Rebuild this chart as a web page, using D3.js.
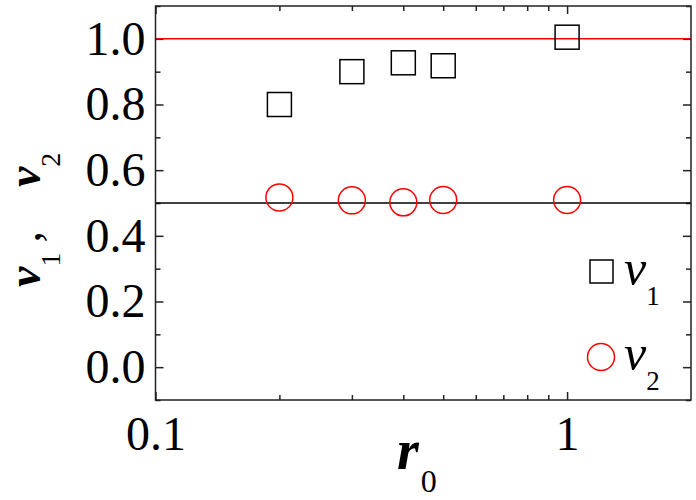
<!DOCTYPE html>
<html>
<head>
<meta charset="utf-8">
<script src="https://cdn.jsdelivr.net/npm/d3@7"></script>
<style>
  html, body { margin: 0; padding: 0; background: #fff; }
  svg text { font-family: "Liberation Serif", "Times New Roman", serif; fill: #000; }
</style>
</head>
<body>
<svg id="chart" width="696" height="500"></svg>
<script>
// data
const r0 = [0.2, 0.3, 0.4, 0.5, 1];
const v1 = [0.80, 0.90, 0.927, 0.918, 1.005];
const v2 = [0.517, 0.508, 0.502, 0.509, 0.509];
const refLines = [{ y: 1.0, color: "#ff0000" }, { y: 0.5, color: "#000" }];
const xMajor = [0.1, 1];
const xMinor = [0.2, 0.3, 0.4, 0.5, 0.6, 0.7, 0.8, 0.9];
const yMajor = [0.0, 0.2, 0.4, 0.6, 0.8, 1.0];
const yMinor = [-0.1, 0.1, 0.3, 0.5, 0.7, 0.9, 1.1];

const svg = d3.select("#chart");
const pLeft = 155.5, pRight = 691, pTop = 6, pBottom = 400;

const x = d3.scaleLog().domain([0.1, 2]).range([pLeft, pRight]);
const y = d3.scaleLinear().domain([-0.1, 1.1]).range([pBottom, pTop]);

const axisColor = "#222";

function styleAxis(g, fontSize) {
  g.select(".domain").remove();
  g.selectAll("line").attr("stroke", axisColor).attr("stroke-width", 1.5);
  g.selectAll("text").attr("font-size", fontSize).attr("fill", "#000");
}

// x axes (bottom with labels, top mirror)
svg.append("g").attr("transform", `translate(0,${pBottom})`)
  .call(d3.axisBottom(x).tickValues(xMinor).tickSizeInner(-5).tickSizeOuter(0).tickFormat(""))
  .call(g => styleAxis(g, 0));
svg.append("g").attr("transform", `translate(0,${pBottom})`)
  .call(d3.axisBottom(x).tickValues(xMajor).tickSizeInner(-8).tickSizeOuter(0).tickPadding(16).tickFormat(d3.format("~g")))
  .call(g => styleAxis(g, 48));
svg.append("g").attr("transform", `translate(0,${pTop})`)
  .call(d3.axisTop(x).tickValues(xMinor).tickSizeInner(-5).tickSizeOuter(0).tickFormat(""))
  .call(g => styleAxis(g, 0));
svg.append("g").attr("transform", `translate(0,${pTop})`)
  .call(d3.axisTop(x).tickValues(xMajor).tickSizeInner(-8).tickSizeOuter(0).tickFormat(""))
  .call(g => styleAxis(g, 0));

// y axes (left with labels, right mirror)
svg.append("g").attr("transform", `translate(${pLeft},0)`)
  .call(d3.axisLeft(y).tickValues(yMinor).tickSizeInner(-5).tickSizeOuter(0).tickFormat(""))
  .call(g => styleAxis(g, 0));
svg.append("g").attr("transform", `translate(${pLeft},0)`)
  .call(d3.axisLeft(y).tickValues(yMajor).tickSizeInner(-8).tickSizeOuter(0).tickPadding(10).tickFormat(d3.format(".1f")))
  .call(g => styleAxis(g, 48));
svg.append("g").attr("transform", `translate(${pRight},0)`)
  .call(d3.axisRight(y).tickValues(yMinor).tickSizeInner(-5).tickSizeOuter(0).tickFormat(""))
  .call(g => styleAxis(g, 0));
svg.append("g").attr("transform", `translate(${pRight},0)`)
  .call(d3.axisRight(y).tickValues(yMajor).tickSizeInner(-8).tickSizeOuter(0).tickFormat(""))
  .call(g => styleAxis(g, 0));

// reference lines
svg.selectAll(".ref").data(refLines).join("line")
  .attr("x1", pLeft).attr("x2", pRight)
  .attr("y1", d => y(d.y)).attr("y2", d => y(d.y))
  .attr("stroke", d => d.color).attr("stroke-width", 1.5);

// frame
svg.append("rect")
  .attr("x", pLeft).attr("y", pTop)
  .attr("width", pRight - pLeft).attr("height", pBottom - pTop)
  .attr("fill", "none").attr("stroke", axisColor).attr("stroke-width", 1.5);

// series
const sq = 24;
svg.selectAll(".v1").data(r0.map((d, i) => [d, v1[i]])).join("rect")
  .attr("x", d => x(d[0]) - sq / 2).attr("y", d => y(d[1]) - sq / 2)
  .attr("width", sq).attr("height", sq)
  .attr("fill", "none").attr("stroke", "#000").attr("stroke-width", 1.5);

svg.selectAll(".v2").data(r0.map((d, i) => [d, v2[i]])).join("circle")
  .attr("cx", d => x(d[0])).attr("cy", d => y(d[1])).attr("r", 13.5)
  .attr("fill", "none").attr("stroke", "#ff0000").attr("stroke-width", 1.5);

// legend
const lg = svg.append("g");
lg.append("rect").attr("x", 590).attr("y", 260).attr("width", 23).attr("height", 23)
  .attr("fill", "none").attr("stroke", "#000").attr("stroke-width", 1.5);
lg.append("circle").attr("cx", 601).attr("cy", 357).attr("r", 13.5)
  .attr("fill", "none").attr("stroke", "#ff0000").attr("stroke-width", 1.5);
[["1", 285], ["2", 370]].forEach(([s, yb]) => {
  const t = lg.append("text").attr("x", 624).attr("y", yb).attr("font-size", 50).attr("font-style", "italic");
  t.append("tspan").text("ν");
  t.append("tspan").attr("font-size", 27).attr("font-style", "normal").attr("dy", 20).text(s);
});

// x label
const xl = svg.append("text").attr("x", 397).attr("y", 469)
  .attr("font-size", 56).attr("font-style", "italic").attr("font-weight", "bold");
xl.append("tspan").text("r");
xl.append("tspan").attr("font-size", 32).attr("font-style", "normal").attr("font-weight", "normal")
  .attr("dy", 23).attr("dx", 2).text("0");

// y label
const yl = svg.append("text").attr("transform", "translate(40,287) rotate(-90)")
  .attr("font-size", 46).attr("font-style", "italic").attr("font-weight", "bold");
yl.append("tspan").text("ν");
yl.append("tspan").attr("font-size", 28).attr("font-style", "normal").attr("font-weight", "normal").attr("dy", 20).text("1");
yl.append("tspan").attr("dy", -20).attr("dx", 10).attr("font-weight", "normal").attr("font-style", "normal").text(",");
yl.append("tspan").attr("dx", 44).text("ν");
yl.append("tspan").attr("font-size", 28).attr("font-style", "normal").attr("font-weight", "normal").attr("dy", 20).text("2");
</script>
</body>
</html>
